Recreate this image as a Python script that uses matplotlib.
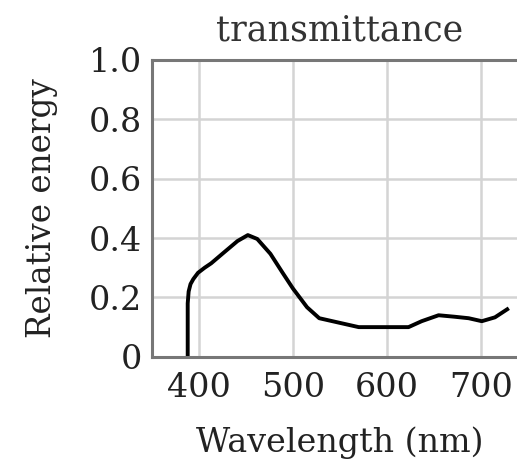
import matplotlib
matplotlib.use('Agg')
import matplotlib.pyplot as plt

plt.rcParams['font.family'] = 'DejaVu Serif'

# Transmittance curve
wavelength = [388, 388, 389, 391, 394, 399, 406, 413, 426, 441, 452, 462, 476,
              489, 500, 515, 528, 549, 570, 602, 623, 637, 655, 672, 687, 701,
              715, 728]
energy = [0.0, 0.18, 0.22, 0.245, 0.262, 0.283, 0.30, 0.315, 0.35, 0.39, 0.41,
          0.397, 0.347, 0.283, 0.23, 0.167, 0.13, 0.115, 0.10, 0.10, 0.10,
          0.12, 0.14, 0.135, 0.13, 0.12, 0.133, 0.16]
x_ticks = [400, 500, 600, 700]
y_ticks = [0, 0.2, 0.4, 0.6, 0.8, 1.0]
y_tick_labels = ['0', '0.2', '0.4', '0.6', '0.8', '1.0']

fig = plt.figure(figsize=(5.17, 4.61), dpi=100)
ax = fig.add_axes([0.294, 0.226, 0.727, 0.644])

ax.plot(wavelength, energy, color='black', linewidth=2.8)

ax.set_xlim(350, 750)
ax.set_ylim(0, 1.0)
ax.set_xticks(x_ticks)
ax.set_yticks(y_ticks)
ax.set_yticklabels(y_tick_labels)
ax.tick_params(length=0, labelsize=24, colors='#222222')
ax.tick_params(axis='y', pad=7)
ax.tick_params(axis='x', pad=11)
ax.grid(True, color='#d4d4d4', linewidth=1.8)
ax.set_axisbelow(True)

for side in ['left', 'bottom', 'top']:
    ax.spines[side].set_color('#777777')
    ax.spines[side].set_linewidth(2.2)
ax.spines['right'].set_visible(False)

ax.set_title('transmittance', fontsize=25, color='#333333', pad=14)
ax.set_xlabel('Wavelength (nm)', fontsize=24, color='#222222', labelpad=16)
ax.set_ylabel('Relative energy', fontsize=23.5, color='#222222', labelpad=22)

fig.savefig('out.png', dpi=100)
